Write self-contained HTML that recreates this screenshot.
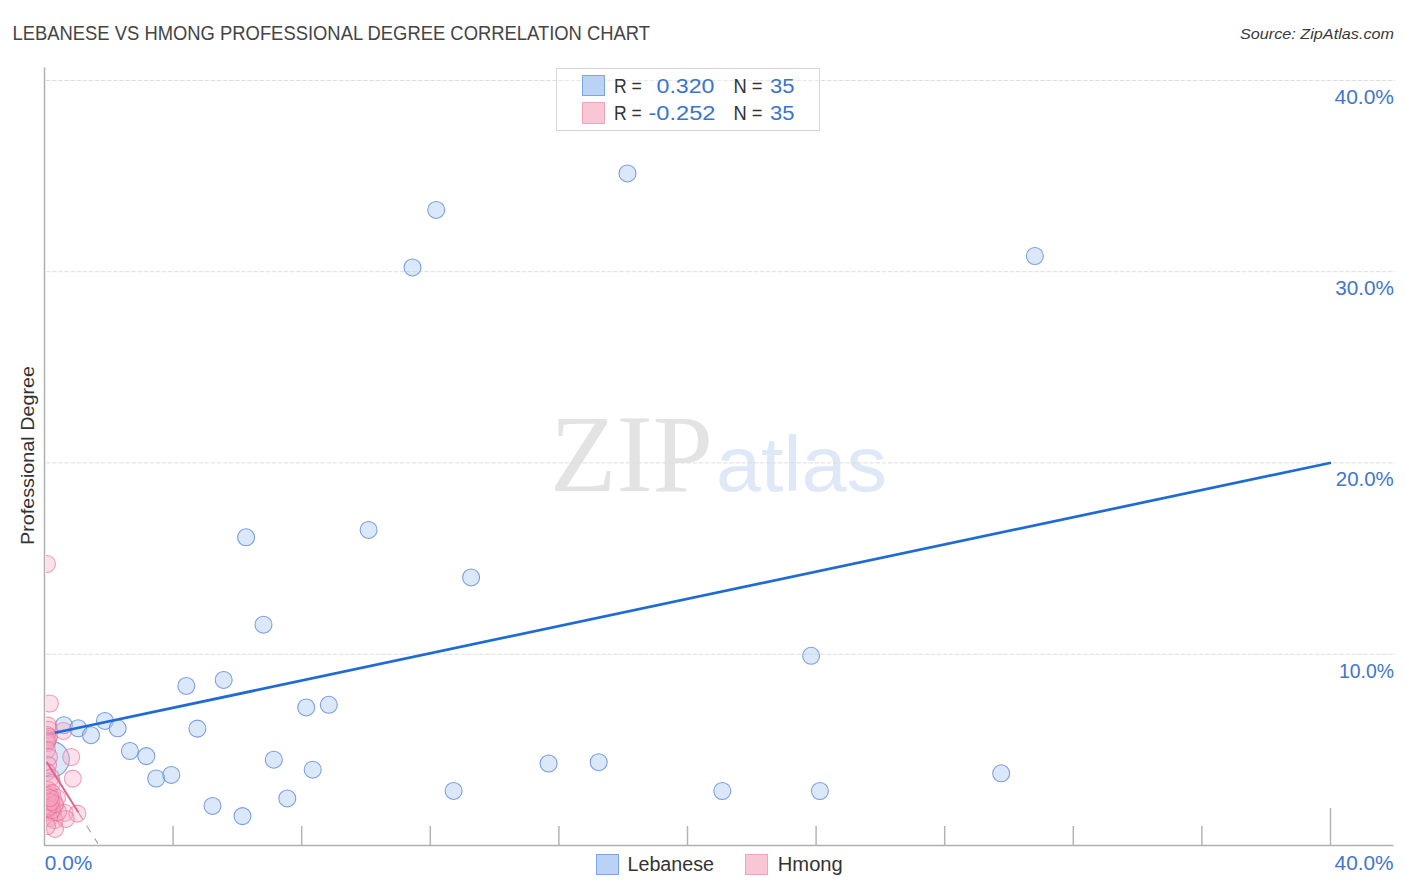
<!DOCTYPE html>
<html><head><meta charset="utf-8"><style>
html,body{margin:0;padding:0;background:#fff;width:1406px;height:892px;overflow:hidden}
svg{position:absolute;left:0;top:0}
.gd{stroke:#dedede;stroke-width:1;stroke-dasharray:4.5 1.6}
.tk{stroke:#b4b4b4;stroke-width:1.5}
.ax{stroke:#b0b0b0;stroke-width:1.5;fill:none}
.b{fill:rgba(175,204,242,0.45);stroke:rgba(100,140,222,0.85);stroke-width:1.05}
.p{fill:rgba(245,165,192,0.33);stroke:rgba(232,110,150,0.66);stroke-width:1.05}
</style></head><body>
<svg width="1406" height="892" viewBox="0 0 1406 892">
<defs><clipPath id="cp"><rect x="46" y="60" width="1360" height="785"/></clipPath></defs>
<text x="550" y="491" font-family="Liberation Serif" font-size="110" fill="#e3e3e3" textLength="163" lengthAdjust="spacingAndGlyphs">ZIP</text>
<text x="716" y="491" font-family="Liberation Sans" font-size="78" fill="#dfe8f6" textLength="171" lengthAdjust="spacingAndGlyphs">atlas</text>
<line x1="46" y1="80.5" x2="1395" y2="80.5" class="gd"/><line x1="46" y1="271.7" x2="1395" y2="271.7" class="gd"/><line x1="46" y1="462.9" x2="1395" y2="462.9" class="gd"/><line x1="46" y1="654.2" x2="1395" y2="654.2" class="gd"/>
<line x1="173.1" y1="826" x2="173.1" y2="845.5" class="tk"/><line x1="301.7" y1="826" x2="301.7" y2="845.5" class="tk"/><line x1="430.3" y1="826" x2="430.3" y2="845.5" class="tk"/><line x1="558.9" y1="826" x2="558.9" y2="845.5" class="tk"/><line x1="687.5" y1="826" x2="687.5" y2="845.5" class="tk"/><line x1="816.1" y1="826" x2="816.1" y2="845.5" class="tk"/><line x1="944.7" y1="826" x2="944.7" y2="845.5" class="tk"/><line x1="1073.3" y1="826" x2="1073.3" y2="845.5" class="tk"/><line x1="1201.9" y1="826" x2="1201.9" y2="845.5" class="tk"/>
<line x1="1330.5" y1="808" x2="1330.5" y2="845.5" class="tk"/>
<path d="M44.5 67.5 V845.5 H1393.5" class="ax"/>
<g clip-path="url(#cp)">
<circle cx="627.5" cy="173.4" r="8.5" class="b"/><circle cx="436.2" cy="209.9" r="8.5" class="b"/><circle cx="412.5" cy="267.4" r="8.5" class="b"/><circle cx="1034.9" cy="256" r="8.5" class="b"/><circle cx="246.1" cy="537.3" r="8.5" class="b"/><circle cx="368.6" cy="529.9" r="8.5" class="b"/><circle cx="471.1" cy="577.4" r="8.5" class="b"/><circle cx="263.5" cy="624.7" r="8.5" class="b"/><circle cx="811.1" cy="655.8" r="8.5" class="b"/><circle cx="186.3" cy="685.9" r="8.5" class="b"/><circle cx="223.7" cy="679.9" r="8.5" class="b"/><circle cx="306.2" cy="707.4" r="8.5" class="b"/><circle cx="328.8" cy="704.8" r="8.5" class="b"/><circle cx="197.4" cy="728.6" r="8.5" class="b"/><circle cx="63.9" cy="725.2" r="8.5" class="b"/><circle cx="78.2" cy="728.3" r="8.5" class="b"/><circle cx="91" cy="735.2" r="8.5" class="b"/><circle cx="104.9" cy="720.9" r="8.5" class="b"/><circle cx="117.7" cy="728.3" r="8.5" class="b"/><circle cx="129.9" cy="751" r="8.5" class="b"/><circle cx="146.3" cy="756.1" r="8.5" class="b"/><circle cx="156.2" cy="778.5" r="8.5" class="b"/><circle cx="171.3" cy="774.9" r="8.5" class="b"/><circle cx="273.8" cy="759.7" r="8.5" class="b"/><circle cx="312.7" cy="769.7" r="8.5" class="b"/><circle cx="548.6" cy="763.5" r="8.5" class="b"/><circle cx="598.7" cy="762.2" r="8.5" class="b"/><circle cx="1001.2" cy="773.3" r="8.5" class="b"/><circle cx="453.6" cy="790.9" r="8.5" class="b"/><circle cx="722.3" cy="791" r="8.5" class="b"/><circle cx="819.9" cy="791" r="8.5" class="b"/><circle cx="212.5" cy="805.9" r="8.5" class="b"/><circle cx="287.3" cy="798.4" r="8.5" class="b"/><circle cx="242.5" cy="816.1" r="8.5" class="b"/><circle cx="51.6" cy="759.3" r="17.7" class="b"/>
<line x1="46" y1="734.7" x2="60" y2="731.7" stroke="#1f6bd6" stroke-width="2.7"/>
<circle cx="47" cy="564" r="8.5" class="p"/><circle cx="49.9" cy="703.5" r="8.5" class="p"/><circle cx="48" cy="725.6" r="8.5" class="p"/><circle cx="49" cy="729.7" r="8.5" class="p"/><circle cx="47" cy="735" r="8.5" class="p"/><circle cx="48" cy="739" r="8.5" class="p"/><circle cx="47" cy="743" r="8.5" class="p"/><circle cx="49" cy="737" r="8.5" class="p"/><circle cx="47" cy="741" r="8.5" class="p"/><circle cx="63.4" cy="730.9" r="8.5" class="p"/><circle cx="47" cy="750" r="8.5" class="p"/><circle cx="71.2" cy="757" r="8.5" class="p"/><circle cx="49" cy="757" r="8.5" class="p"/><circle cx="48" cy="765" r="8.5" class="p"/><circle cx="47" cy="772" r="8.5" class="p"/><circle cx="51" cy="777.5" r="8.5" class="p"/><circle cx="72.8" cy="778.6" r="8.5" class="p"/><circle cx="52" cy="783" r="8.5" class="p"/><circle cx="48" cy="790" r="8.5" class="p"/><circle cx="50" cy="795" r="8.5" class="p"/><circle cx="53" cy="799" r="8.5" class="p"/><circle cx="48" cy="801" r="8.5" class="p"/><circle cx="55" cy="805" r="8.5" class="p"/><circle cx="50" cy="807" r="8.5" class="p"/><circle cx="47" cy="812" r="8.5" class="p"/><circle cx="53" cy="812" r="8.5" class="p"/><circle cx="64.7" cy="812.8" r="8.5" class="p"/><circle cx="77.4" cy="813.6" r="8.5" class="p"/><circle cx="49" cy="818" r="8.5" class="p"/><circle cx="54.5" cy="820" r="8.5" class="p"/><circle cx="65.8" cy="819" r="8.5" class="p"/><circle cx="55" cy="828.9" r="8.5" class="p"/><circle cx="47" cy="826" r="8.5" class="p"/><circle cx="58" cy="812" r="8.5" class="p"/><circle cx="52" cy="793" r="8.5" class="p"/><circle cx="47" cy="796" r="8.5" class="p"/><circle cx="57" cy="798" r="8.5" class="p"/><circle cx="50" cy="806" r="8.5" class="p"/><circle cx="52" cy="810" r="8.5" class="p"/><circle cx="48" cy="808" r="8.5" class="p"/><circle cx="55" cy="804" r="8.5" class="p"/><circle cx="51" cy="802" r="8.5" class="p"/><circle cx="50" cy="798" r="8.5" class="p"/>
<line x1="55" y1="732.8" x2="1331" y2="462.7" stroke="#1f6bd6" stroke-width="2.7"/>
<line x1="46.6" y1="761.8" x2="78.3" y2="812.3" stroke="#e3628e" stroke-width="2"/>
<line x1="78.3" y1="812.3" x2="97.9" y2="843.6" stroke="#ad9aa3" stroke-width="1.1" stroke-dasharray="8 7.5"/>
</g>
<rect x="556.5" y="68.5" width="263" height="62" fill="rgba(255,255,255,0.3)" stroke="#d8d8d8" stroke-width="1"/>
<rect x="582.5" y="75.5" width="22" height="20" fill="#b9d2f5" stroke="#7aa6e6" stroke-width="1"/>
<rect x="582.5" y="102.5" width="22" height="21" fill="#f9c6d6" stroke="#eea5bd" stroke-width="1"/>
<rect x="596.5" y="854.5" width="22" height="20" fill="#b9d2f5" stroke="#7aa6e6" stroke-width="1"/>
<rect x="745.5" y="854.5" width="22" height="20" fill="#f9c6d6" stroke="#eea5bd" stroke-width="1"/>
<text x="12.5" y="40" font-family="Liberation Sans" font-size="19.5" fill="#454545" textLength="637.5" lengthAdjust="spacingAndGlyphs">LEBANESE VS HMONG PROFESSIONAL DEGREE CORRELATION CHART</text><text x="1240" y="38.7" font-family="Liberation Sans" font-size="15" fill="#3a3a3a" textLength="154" lengthAdjust="spacingAndGlyphs" font-style="italic">Source: ZipAtlas.com</text><text x="1334.5" y="104" font-family="Liberation Sans" font-size="20" fill="#4176cc" textLength="59.5" lengthAdjust="spacingAndGlyphs">40.0%</text><text x="1335.2" y="294.6" font-family="Liberation Sans" font-size="20" fill="#4176cc" textLength="58.8" lengthAdjust="spacingAndGlyphs">30.0%</text><text x="1335.8" y="485.9" font-family="Liberation Sans" font-size="20" fill="#4176cc" textLength="58" lengthAdjust="spacingAndGlyphs">20.0%</text><text x="1339" y="678" font-family="Liberation Sans" font-size="20" fill="#4176cc" textLength="55" lengthAdjust="spacingAndGlyphs">10.0%</text><text x="44.8" y="870.2" font-family="Liberation Sans" font-size="20" fill="#4176cc" textLength="47.5" lengthAdjust="spacingAndGlyphs">0.0%</text><text x="1334.6" y="869.8" font-family="Liberation Sans" font-size="20" fill="#4176cc" textLength="59" lengthAdjust="spacingAndGlyphs">40.0%</text><text x="627.5" y="871.3" font-family="Liberation Sans" font-size="19.5" fill="#333" textLength="86.5" lengthAdjust="spacingAndGlyphs">Lebanese</text><text x="777.8" y="871.3" font-family="Liberation Sans" font-size="19.5" fill="#333" textLength="65" lengthAdjust="spacingAndGlyphs">Hmong</text><text x="614" y="92.7" font-family="Liberation Sans" font-size="19.5" fill="#333" textLength="27.8" lengthAdjust="spacingAndGlyphs">R =</text><text x="656.5" y="92.7" font-family="Liberation Sans" font-size="19.5" fill="#3a74d0" textLength="58" lengthAdjust="spacingAndGlyphs">0.320</text><text x="733.5" y="92.7" font-family="Liberation Sans" font-size="19.5" fill="#333" textLength="29" lengthAdjust="spacingAndGlyphs">N =</text><text x="770" y="92.7" font-family="Liberation Sans" font-size="19.5" fill="#3a74d0" textLength="24.5" lengthAdjust="spacingAndGlyphs">35</text><text x="614" y="119.7" font-family="Liberation Sans" font-size="19.5" fill="#333" textLength="27.8" lengthAdjust="spacingAndGlyphs">R =</text><text x="648.5" y="119.7" font-family="Liberation Sans" font-size="19.5" fill="#3a74d0" textLength="67" lengthAdjust="spacingAndGlyphs">-0.252</text><text x="733.5" y="119.7" font-family="Liberation Sans" font-size="19.5" fill="#333" textLength="29" lengthAdjust="spacingAndGlyphs">N =</text><text x="770" y="119.7" font-family="Liberation Sans" font-size="19.5" fill="#3a74d0" textLength="24.5" lengthAdjust="spacingAndGlyphs">35</text><g transform="translate(33.5,545) rotate(-90)"><text x="0" y="0" font-family="Liberation Sans" font-size="19" fill="#333" textLength="179" lengthAdjust="spacingAndGlyphs">Professional Degree</text></g>
</svg>
</body></html>
